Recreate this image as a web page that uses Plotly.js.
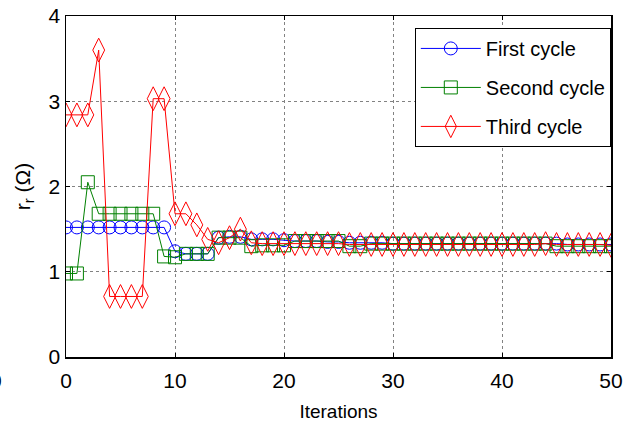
<!DOCTYPE html>
<html>
<head>
<meta charset="utf-8">
<script src="https://cdn.plot.ly/plotly-3.0.1.min.js"></script>
<style>html,body{margin:0;padding:0;background:#fff;}#chart{width:629px;height:428px;}</style>
</head>
<body>
<div id="chart"></div>
<script>
const iterations = [];
for (let i = 0; i <= 50; i++) iterations.push(i);

const firstCycle = [1.52,1.52,1.52,1.52,1.52,1.52,1.52,1.52,1.52,1.52,
  1.24,1.21,1.21,1.21,1.40,1.41,1.41,1.38,1.38,1.38,
  1.37,1.36,1.36,1.36,1.35,1.35,1.34,1.34,1.34,1.34,
  1.33,1.33,1.33,1.33,1.33,1.33,1.33,1.33,1.33,1.33,
  1.33,1.33,1.33,1.33,1.33,1.33,1.32,1.32,1.32,1.32,1.32];

const secondCycle = [0.98,0.98,2.05,1.68,1.68,1.68,1.68,1.68,1.68,1.18,
  1.17,1.21,1.21,1.21,1.40,1.40,1.40,1.30,1.31,1.31,
  1.31,1.36,1.36,1.36,1.36,1.36,1.30,1.30,1.33,1.33,
  1.33,1.33,1.33,1.33,1.33,1.33,1.33,1.33,1.33,1.33,
  1.33,1.33,1.33,1.33,1.33,1.30,1.30,1.30,1.30,1.30,1.30];

const thirdCycle = [2.84,2.84,2.84,3.60,0.71,0.71,0.71,0.71,3.03,3.03,
  1.68,1.68,1.55,1.38,1.34,1.40,1.50,1.34,1.33,1.33,
  1.33,1.33,1.33,1.33,1.33,1.33,1.32,1.32,1.32,1.32,
  1.32,1.32,1.32,1.32,1.32,1.32,1.32,1.32,1.32,1.32,
  1.32,1.32,1.32,1.32,1.33,1.32,1.32,1.32,1.32,1.32,1.31];

const seriesNames = ['First cycle', 'Second cycle', 'Third cycle'];
const xTicks = [0, 10, 20, 30, 40, 50];
const yTicks = [0, 1, 2, 3, 4];

const FONT = '"Liberation Sans Narrow", "Arial Narrow", "Liberation Sans", Arial, sans-serif';

const traces = [
  {x: iterations, y: firstCycle, name: seriesNames[0], legendgroup: 'a', mode: 'lines+markers',
   line: {color: 'rgb(0,0,255)', width: 1},
   marker: {symbol: 'circle-open', size: 13, color: 'rgb(0,0,255)', line: {width: 1, color: 'rgb(0,0,255)'}}},
  {x: iterations, y: secondCycle, name: seriesNames[1], legendgroup: 'b', mode: 'lines+markers',
   line: {color: 'rgb(0,128,0)', width: 1},
   marker: {symbol: 'square-open', size: 13, color: 'rgb(0,128,0)', line: {width: 1, color: 'rgb(0,128,0)'}}},
  {x: iterations, y: thirdCycle, name: seriesNames[2], legendgroup: 'c', mode: 'lines+markers',
   line: {color: 'rgb(255,0,0)', width: 1},
   marker: {symbol: 'diamond-tall-open', size: 17, color: 'rgb(255,0,0)', line: {width: 1, color: 'rgb(255,0,0)'}}}
];

const axisCommon = {
  showline: true, linecolor: '#000', linewidth: 1.5, mirror: 'ticks',
  ticks: 'inside', ticklen: 4, tickcolor: '#000',
  showgrid: true, gridcolor: 'rgb(130,130,130)', griddash: 'dot', gridwidth: 1,
  zeroline: false, tickfont: {family: FONT, size: 21, color: '#000'}
};

const layout = {
  width: 629, height: 428,
  margin: {l: 66, r: 18, t: 16, b: 71},
  paper_bgcolor: '#fff', plot_bgcolor: '#fff',
  font: {family: FONT, color: '#000'},
  xaxis: Object.assign({}, axisCommon, {
    range: [0, 50], tickvals: xTicks, ticktext: xTicks.map(String),
    ticklabelstandoff: 4,
    title: {text: 'Iterations', font: {family: FONT, size: 19, color: '#000'}, standoff: 14}
  }),
  yaxis: Object.assign({}, axisCommon, {
    range: [0, 4], tickvals: yTicks, ticktext: yTicks.map(String),
    title: {text: 'r<sub>r</sub> (Ω)', font: {family: FONT, size: 21, color: '#000'}, standoff: 12}
  }),
  legend: {
    x: 0.64, y: 0.965, xanchor: 'left', yanchor: 'top',
    bgcolor: '#fff', bordercolor: '#000', borderwidth: 1,
    font: {family: FONT, size: 20, color: '#000'},
    itemwidth: 60, tracegroupgap: 10
  },
  showlegend: true,
  annotations: [{
    text: '0', xref: 'paper', yref: 'paper', x: -0.128, y: -0.07,
    xanchor: 'center', yanchor: 'middle', showarrow: false,
    font: {family: FONT, size: 21, color: '#000'}
  }]
};

Plotly.newPlot('chart', traces, layout, {displayModeBar: false, staticPlot: true});
</script>
</body>
</html>
